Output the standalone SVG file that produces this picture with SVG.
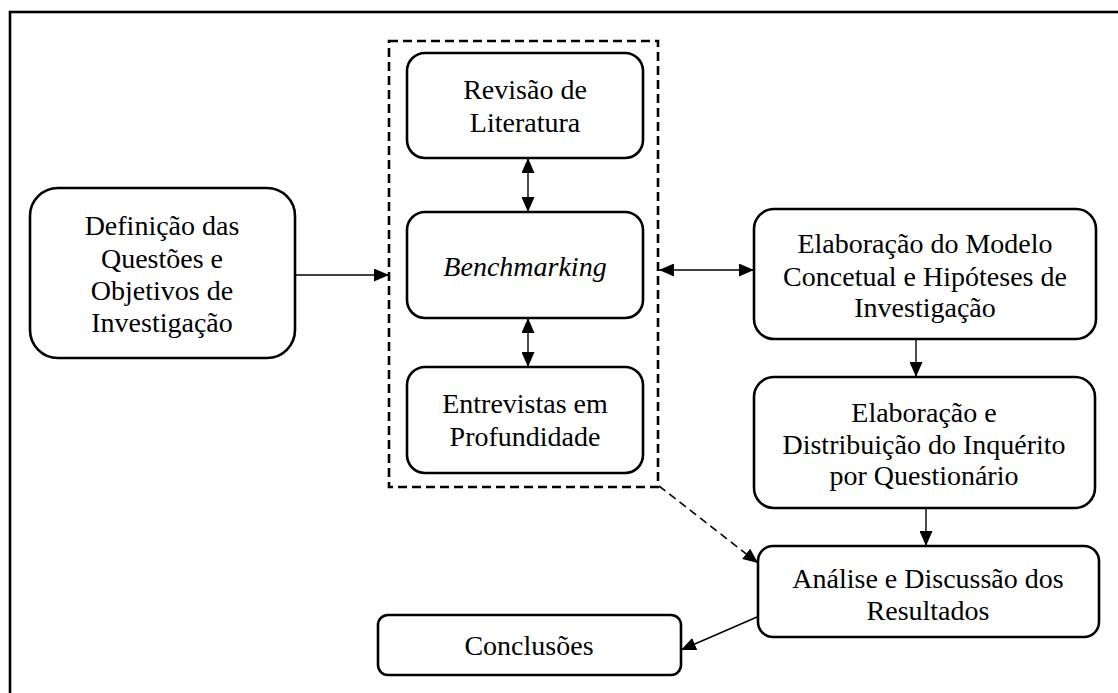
<svg xmlns="http://www.w3.org/2000/svg" width="1118" height="693" viewBox="0 0 1118 693">
  <style>
    .box { fill: #ffffff; stroke: #000000; stroke-width: 2.6; }
    .lbl { font-family: 'Liberation Serif', 'Times New Roman', serif; font-size: 28px; fill: #000000; text-anchor: middle; }
    .it { font-style: italic; }
    .link { fill: none; stroke: #000000; stroke-width: 1.4; }
    .dash { fill: none; stroke: #000000; stroke-width: 1.6; stroke-dasharray: 8 5; }
    .group { fill: none; stroke: #000000; stroke-width: 2.6; stroke-dasharray: 9 5; }
  </style>
  <defs>
    <marker id="head" viewBox="0 0 15 13" refX="15" refY="6.5" markerWidth="15" markerHeight="13" markerUnits="userSpaceOnUse" orient="auto-start-reverse">
      <path d="M0,0 L15,6.5 L0,13 Z" fill="#000000"/>
    </marker>
  </defs>

  <rect width="1118" height="693" fill="#ffffff"/>
  <!-- outer frame -->
  <rect x="10" y="12" width="1200" height="800" fill="none" stroke="#000000" stroke-width="2.6"/>

  <!-- dashed grouping of the three parallel activities -->
  <rect id="grupo" class="group" x="389" y="41" width="269" height="446"/>

  <g id="definicao">
    <rect class="box" x="30" y="188" width="265" height="170" rx="28" ry="28"/>
    <text class="lbl" x="162" y="235">Definição das</text>
    <text class="lbl" x="162" y="268">Questões e</text>
    <text class="lbl" x="162" y="300">Objetivos de</text>
    <text class="lbl" x="162" y="332">Investigação</text>
  </g>

  <g id="revisao">
    <rect class="box" x="407" y="53" width="236" height="105" rx="18" ry="18"/>
    <text class="lbl" x="525" y="99">Revisão de</text>
    <text class="lbl" x="525" y="132">Literatura</text>
  </g>

  <g id="benchmarking">
    <rect class="box" x="407" y="212" width="236" height="106" rx="18" ry="18"/>
    <text class="lbl it" x="525" y="276">Benchmarking</text>
  </g>

  <g id="entrevistas">
    <rect class="box" x="407" y="367" width="236" height="106" rx="18" ry="18"/>
    <text class="lbl" x="525" y="413">Entrevistas em</text>
    <text class="lbl" x="525" y="446">Profundidade</text>
  </g>

  <g id="modelo">
    <rect class="box" x="754" y="209" width="342" height="130" rx="20" ry="20"/>
    <text class="lbl" x="925" y="253">Elaboração do Modelo</text>
    <text class="lbl" x="925" y="286">Concetual e Hipóteses de</text>
    <text class="lbl" x="925" y="317">Investigação</text>
  </g>

  <g id="inquerito">
    <rect class="box" x="754" y="377" width="341" height="131" rx="20" ry="20"/>
    <text class="lbl" x="924" y="422">Elaboração e</text>
    <text class="lbl" x="924" y="454">Distribuição do Inquérito</text>
    <text class="lbl" x="924" y="485">por Questionário</text>
  </g>

  <g id="analise">
    <rect class="box" x="758" y="546" width="341" height="91" rx="15" ry="15"/>
    <text class="lbl" x="928" y="588">Análise e Discussão dos</text>
    <text class="lbl" x="928" y="620">Resultados</text>
  </g>

  <g id="conclusoes">
    <rect class="box" x="378" y="615" width="303" height="60" rx="10" ry="10"/>
    <text class="lbl" x="529" y="655">Conclusões</text>
  </g>

  <g id="ligacoes">
    <line class="link" x1="295" y1="275" x2="389" y2="275" marker-end="url(#head)"/>
    <line class="link" x1="528" y1="158" x2="528" y2="212" marker-start="url(#head)" marker-end="url(#head)"/>
    <line class="link" x1="528" y1="318" x2="528" y2="367" marker-start="url(#head)" marker-end="url(#head)"/>
    <line class="link" x1="659" y1="270" x2="754" y2="270" marker-start="url(#head)" marker-end="url(#head)"/>
    <line class="link" x1="916" y1="339" x2="916" y2="377" marker-end="url(#head)"/>
    <line class="link" x1="926" y1="508" x2="926" y2="546" marker-end="url(#head)"/>
    <line class="dash" x1="659" y1="486" x2="758" y2="563" marker-end="url(#head)"/>
    <line class="link" x1="757" y1="617" x2="681" y2="650" marker-end="url(#head)"/>
  </g>
</svg>
